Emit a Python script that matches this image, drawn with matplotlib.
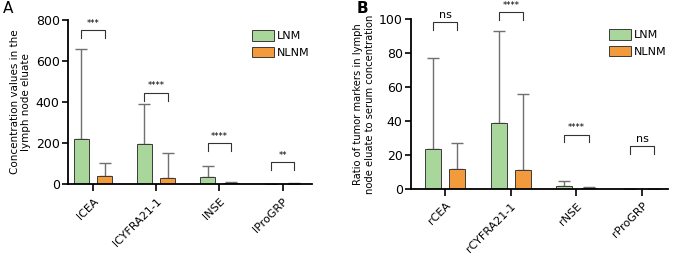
import matplotlib
matplotlib.use("Agg")
import matplotlib.pyplot as plt
import numpy as np

plt.rcParams["font.family"] = ["DejaVu Sans"]

# panel A
cats_a = ["lCEA", "lCYFRA21-1", "lNSE", "lProGRP"]
lnm_a = [220, 196, 35, 1]
lnm_a_err = [438, 194, 53, 1.5]
nlnm_a = [38, 32, 3, 2]
nlnm_a_err = [65, 118, 9, 2]
sig_a = ["***", "****", "****", "**"]
sig_a_y = [750, 445, 200, 107]

# panel B
cats_b = ["rCEA", "rCYFRA21-1", "rNSE", "rProGRP"]
lnm_b = [23.5, 39, 2, 0]
lnm_b_err = [53.5, 54, 2.5, 0]
nlnm_b = [11.5, 11, 0.5, 0]
nlnm_b_err = [15.5, 45, 0.5, 0]
sig_b = ["ns", "****", "****", "ns"]
sig_b_y = [98, 104, 32, 25]

GREEN = "#a9d79b"
ORANGE = "#f29a3c"
EDGE = "#3a3a3a"
ERR = "#707070"


def draw_panel(ax, cats, lnm, lnm_err, nlnm, nlnm_err, sig, sig_y, ymax, step, drop):
    x = np.arange(len(cats))
    off, w = 0.185, 0.24
    ax.bar(x - off, lnm, w, color=GREEN, edgecolor=EDGE, linewidth=0.7, label="LNM", zorder=2)
    ax.bar(x + off, nlnm, w, color=ORANGE, edgecolor=EDGE, linewidth=0.7, label="NLNM", zorder=2)
    ekw = dict(ecolor=ERR, elinewidth=1.0, capsize=4, capthick=1.0, fmt="none", zorder=1)
    ax.errorbar(x - off, lnm, yerr=[np.zeros(len(x)), lnm_err], **ekw)
    ax.errorbar(x + off, nlnm, yerr=[np.zeros(len(x)), nlnm_err], **ekw)
    for xi, s, y in zip(x, sig, sig_y):
        ax.plot([xi - off, xi - off, xi + off, xi + off], [y - drop, y, y, y - drop],
                color="#333333", lw=0.8, clip_on=False)
        ax.text(xi, y + drop * 0.3, s, ha="center", va="bottom", fontsize=8 if s == "ns" else 6,
                clip_on=False)
    ax.set_ylim(0, ymax)
    ax.set_yticks(np.arange(0, ymax + 1, step))
    ax.set_xticks(x)
    ax.set_xticklabels(cats, rotation=45, ha="right", rotation_mode="anchor", fontsize=8)
    ax.tick_params(axis="y", labelsize=9, width=1.2, length=4, pad=2)
    ax.tick_params(axis="x", width=1.2, length=5)
    for sp in ("top", "right"):
        ax.spines[sp].set_visible(False)
    for sp in ("left", "bottom"):
        ax.spines[sp].set_linewidth(1.3)
    ax.legend(loc="upper right", bbox_to_anchor=(1.02, 0.98), frameon=False, fontsize=8,
              handlelength=2.0, handleheight=1.1, borderaxespad=0.2, labelspacing=0.5,
              handletextpad=0.3)


fig = plt.figure(figsize=(6.75, 2.56), dpi=100)
ax_a = fig.add_axes([0.1007, 0.281, 0.361, 0.641])
draw_panel(ax_a, cats_a, lnm_a, lnm_a_err, nlnm_a, nlnm_a_err, sig_a, sig_a_y, 800, 200, 40)
ax_a.set_xlim(-0.395, 3.46)
ax_a.set_ylabel("Concentration values in the\nlymph node eluate", fontsize=7.5, labelpad=3)

ax_b = fig.add_axes([0.609, 0.262, 0.381, 0.664])
draw_panel(ax_b, cats_b, lnm_b, lnm_b_err, nlnm_b, nlnm_b_err, sig_b, sig_b_y, 100, 20, 4.5)
ax_b.set_xlim(-0.52, 3.4)
ax_b.set_ylabel("Ratio of tumor markers in lymph\nnode eluate to serum concentration", fontsize=7.2,
                labelpad=3)

fig.text(0.004, 0.998, "A", fontsize=11, ha="left", va="top")
fig.text(0.529, 0.998, "B", fontsize=11, ha="left", va="top", fontweight="bold")

fig.savefig("out.png", dpi=100)
